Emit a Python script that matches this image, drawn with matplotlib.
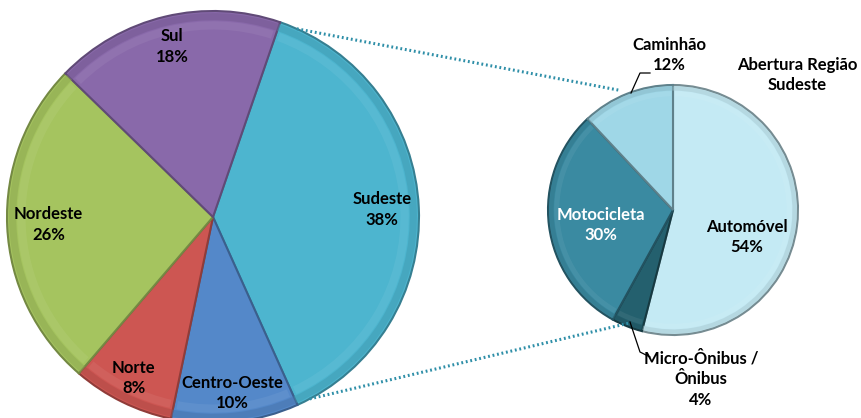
import numpy as np
import matplotlib
matplotlib.use('agg')
import matplotlib.pyplot as plt
from matplotlib.patches import Wedge

plt.rcParams['font.family'] = ['Lato', 'DejaVu Sans']

# dados - regiões
regioes = ['Sudeste', 'Centro-Oeste', 'Norte', 'Nordeste', 'Sul']
regioes_pct = [38, 10, 8, 26, 18]
regioes_cores = ['#4DB5CF', '#5488C9', '#CD5652', '#A5C45F', '#8969AA']

# dados - abertura Sudeste
veiculos = ['Automóvel', 'Micro-Ônibus /\nÔnibus', 'Motocicleta', 'Caminhão']
veiculos_pct = [54, 4, 30, 12]
veiculos_cores = ['#C4EAF4', '#24606E', '#3A8AA1', '#9FD7E7']

W, H = 861, 418
fig = plt.figure(figsize=(W / 100, H / 100), dpi=100)
ax = fig.add_axes([0, 0, 1, 1])

c1, r1 = (213, H - 217), 206
c2, r2 = (673, H - 210), 125

def darker(c, f=0.75):
    rgb = np.array(matplotlib.colors.to_rgb(c))
    return tuple(rgb * f)

def lighter(c, f=0.35):
    rgb = np.array(matplotlib.colors.to_rgb(c))
    return tuple(rgb + (1 - rgb) * f)

def bevel(wedges, cores, c, r, fdark):
    # aro externo escuro + brilho interno suave (efeito 3D)
    for w, cor in zip(wedges, cores):
        w.set_edgecolor(darker(cor, fdark))
        ax.add_patch(Wedge(c, r * 0.99, w.theta1, w.theta2, width=r * 0.035,
                           facecolor=darker(cor, 0.85), edgecolor='none', alpha=0.5, zorder=2))
        ax.add_patch(Wedge(c, r * 0.95, w.theta1 + 1.0, w.theta2 - 1.0, width=r * 0.04,
                           facecolor=lighter(cor, 0.2), edgecolor='none', alpha=0.3, zorder=2))

w1, _ = ax.pie(regioes_pct, colors=regioes_cores, startangle=71, counterclock=False,
               center=c1, radius=r1, frame=True,
               wedgeprops=dict(linewidth=1.5))
bevel(w1, regioes_cores, c1, r1, 0.7)

w2, _ = ax.pie(veiculos_pct, colors=veiculos_cores, startangle=90, counterclock=False,
               center=c2, radius=r2, frame=True,
               wedgeprops=dict(linewidth=1.5))
bevel(w2, veiculos_cores, c2, r2, 0.6)

ax.set_xlim(0, W)
ax.set_ylim(0, H)
ax.set_aspect('equal')
ax.axis('off')

fs = 12
# rótulos do pie grande
dist1 = [0.82, 0.86, 0.87, 0.80, 0.85]
for w, nome, p, d in zip(w1, regioes, regioes_pct, dist1):
    ang = np.deg2rad((w.theta1 + w.theta2) / 2)
    x = c1[0] + d * r1 * np.cos(ang)
    y = c1[1] + d * r1 * np.sin(ang)
    ax.text(x, y, f'{nome}\n{p}%', ha='center', va='center', fontsize=fs,
            fontweight='bold', linespacing=1.35, color='black', zorder=5)

# rótulos do pie pequeno
kw = dict(ha='center', va='center', fontsize=fs, fontweight='bold', linespacing=1.35, zorder=5)
ax.text(747, H - 237, f'{veiculos[0]}\n{veiculos_pct[0]}%', **kw)
ax.text(601, H - 225, f'{veiculos[2]}\n{veiculos_pct[2]}%', color='white', **kw)
ax.text(669, H - 55, f'{veiculos[3]}\n{veiculos_pct[3]}%', **kw)
ax.text(701, H - 379, f'{veiculos[1]}\n{veiculos_pct[1]}%', **kw)
ax.text(797, H - 75, 'Abertura Região\nSudeste', **kw)

# linhas guia
ax.plot([650, 640, 631], [H - 73, H - 73, H - 93], color='black', lw=0.9)
ax.plot([630, 640, 650], [H - 322, H - 352, H - 357], color='black', lw=0.9)

# conectores pontilhados
def pt(c, r, deg):
    a = np.deg2rad(deg)
    return c[0] + r * np.cos(a), c[1] + r * np.sin(a)

for a1, a2, rr in [(66, 114, 131), (-62, -111, 121)]:
    x0, y0 = pt(c1, r1, a1)
    x1, y1 = pt(c2, rr, a2)
    ax.plot([x0, x1], [y0, y1], color='#2F8FA8', lw=2.2, linestyle=(0, (0.6, 0.9)))

fig.savefig('out.png', dpi=100)
